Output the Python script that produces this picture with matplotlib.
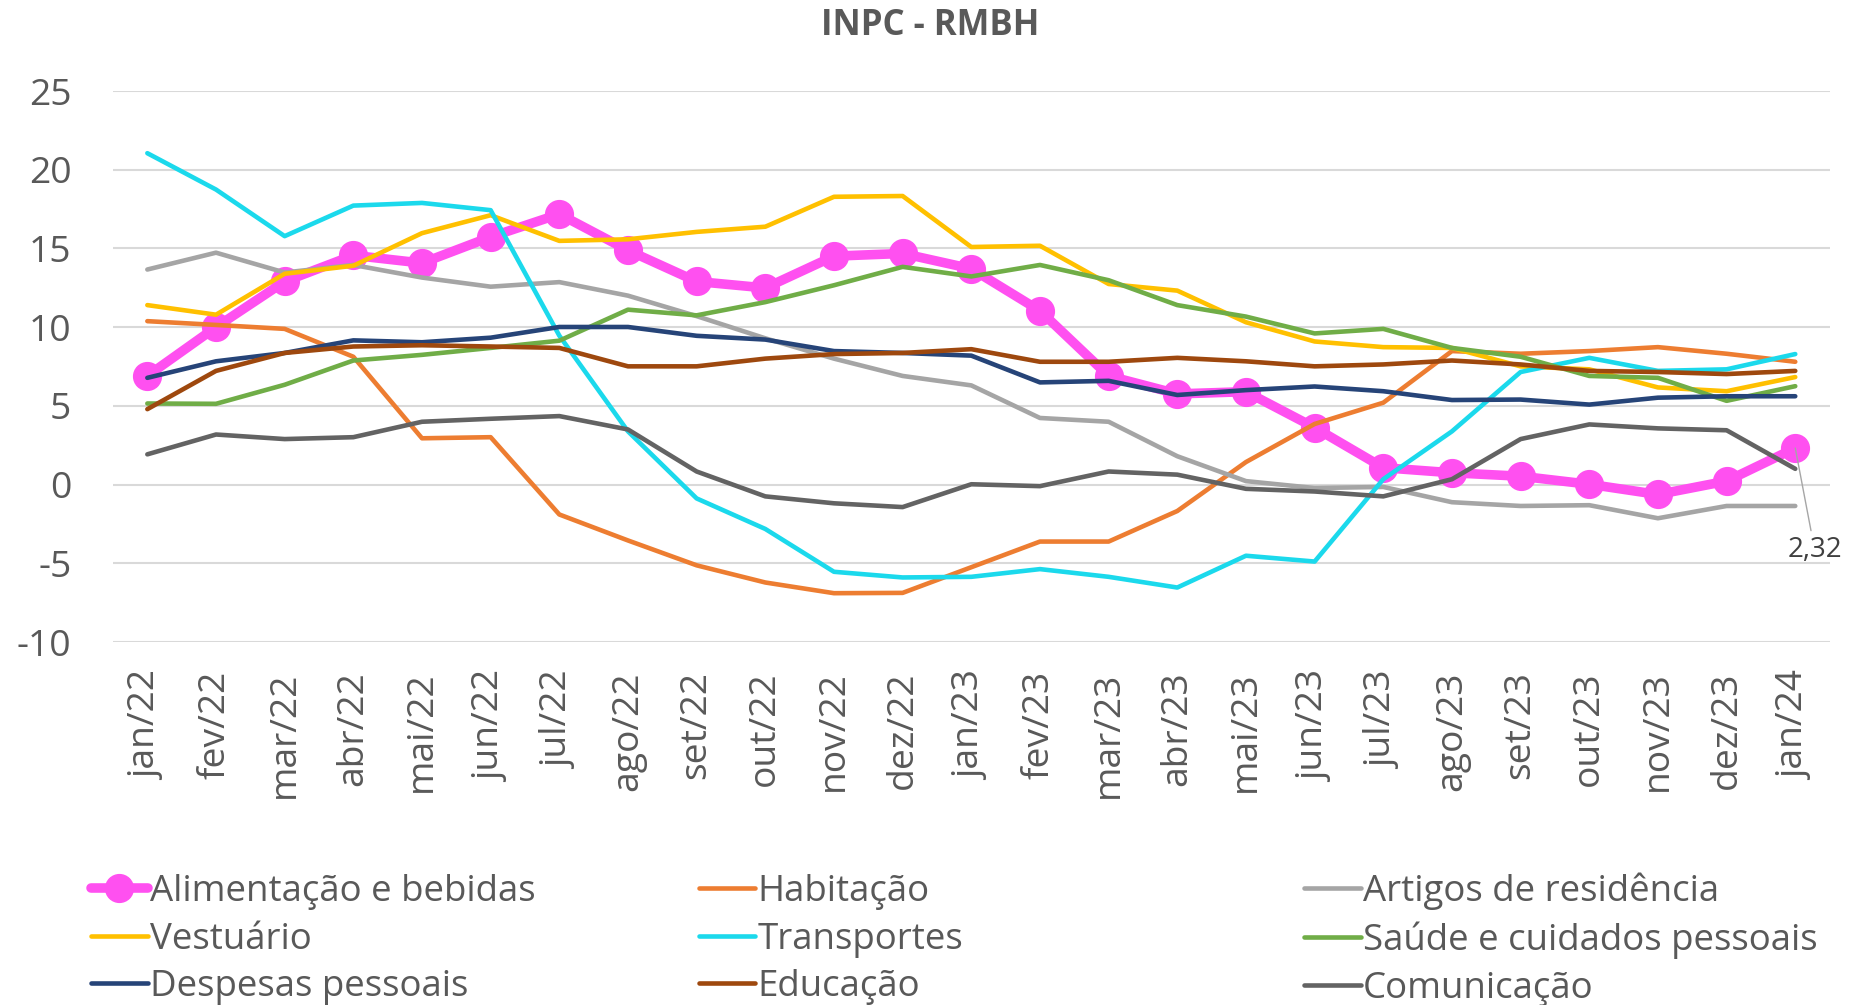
import matplotlib
matplotlib.use("Agg")
import matplotlib.pyplot as plt

plt.rcParams['font.family'] = ['Open Sans', 'DejaVu Sans']
plt.rcParams['axes.unicode_minus'] = False

meses = ['jan/22', 'fev/22', 'mar/22', 'abr/22', 'mai/22', 'jun/22', 'jul/22',
         'ago/22', 'set/22', 'out/22', 'nov/22', 'dez/22', 'jan/23', 'fev/23',
         'mar/23', 'abr/23', 'mai/23', 'jun/23', 'jul/23', 'ago/23', 'set/23',
         'out/23', 'nov/23', 'dez/23', 'jan/24']

alimentacao = [6.90, 10.00, 12.90, 14.56, 14.07, 15.73, 17.18, 14.88, 12.90, 12.49,
               14.51, 14.68, 13.71, 11.04, 6.90, 5.76, 5.90, 3.62, 1.07, 0.75,
               0.53, 0.02, -0.63, 0.22, 2.32]
habitacao = [10.38, 10.14, 9.89, 8.12, 2.94, 3.01, -1.90, -3.55, -5.13, -6.22,
             -6.90, -6.88, -5.25, -3.62, -3.62, -1.68, 1.43, 3.85, 5.20, 8.48,
             8.31, 8.48, 8.73, 8.31, 7.80]
artigos = [13.66, 14.73, 13.47, 13.95, 13.15, 12.57, 12.86, 12.00, 10.70, 9.29,
           8.00, 6.90, 6.30, 4.23, 3.99, 1.80, 0.22, -0.22, -0.15, -1.12,
           -1.36, -1.31, -2.14, -1.36, -1.36]
vestuario = [11.40, 10.79, 13.39, 13.90, 15.97, 17.11, 15.48, 15.58, 16.05, 16.38,
             18.28, 18.33, 15.09, 15.17, 12.74, 12.32, 10.31, 9.09, 8.73, 8.68,
             7.51, 7.32, 6.17, 5.93, 6.83]
transportes = [21.05, 18.74, 15.78, 17.72, 17.89, 17.43, 9.46, 3.38, -0.88, -2.82,
               -5.54, -5.90, -5.86, -5.37, -5.86, -6.54, -4.52, -4.89, 0.34, 3.38,
               7.15, 8.05, 7.22, 7.32, 8.29]
saude = [5.15, 5.13, 6.34, 7.88, 8.24, 8.68, 9.14, 11.11, 10.75, 11.59,
         12.66, 13.83, 13.22, 13.95, 12.98, 11.40, 10.67, 9.60, 9.89, 8.68,
         8.12, 6.90, 6.78, 5.32, 6.25]
despesas = [6.78, 7.83, 8.36, 9.16, 9.04, 9.33, 10.01, 10.01, 9.45, 9.21,
            8.48, 8.36, 8.19, 6.49, 6.59, 5.69, 6.00, 6.23, 5.93, 5.37,
            5.40, 5.08, 5.52, 5.61, 5.61]
educacao = [4.79, 7.22, 8.36, 8.77, 8.85, 8.77, 8.68, 7.51, 7.51, 8.00,
            8.29, 8.36, 8.60, 7.80, 7.80, 8.05, 7.83, 7.51, 7.63, 7.88,
            7.63, 7.22, 7.15, 7.02, 7.22]
comunicacao = [1.92, 3.18, 2.89, 3.01, 3.99, 4.18, 4.35, 3.50, 0.83, -0.75,
               -1.19, -1.43, 0.02, -0.10, 0.83, 0.63, -0.27, -0.44, -0.75, 0.34,
               2.89, 3.82, 3.57, 3.45, 1.00]

series = [
    ("Alimentação e bebidas", alimentacao, "#FF50F0"),
    ("Habitação", habitacao, "#ED7D31"),
    ("Artigos de residência", artigos, "#A5A5A5"),
    ("Vestuário", vestuario, "#FFC000"),
    ("Transportes", transportes, "#1BD9EC"),
    ("Saúde e cuidados pessoais", saude, "#70AD47"),
    ("Despesas pessoais", despesas, "#264478"),
    ("Educação", educacao, "#9E480E"),
    ("Comunicação", comunicacao, "#636363"),
]

W, H = 1850, 1005
fig = plt.figure(figsize=(W / 100, H / 100), dpi=100)
ax = fig.add_axes([113 / W, 1 - 642 / H, (1829.6 - 113) / W, (642 - 91) / H])

x = list(range(len(meses)))
linhas = []
for i, (nome, vals, cor) in enumerate(series):
    if i == 0:
        ln, = ax.plot(x, vals, color=cor, lw=6.9, marker='o', markersize=20,
                      solid_joinstyle='round', solid_capstyle='round', label=nome)
    else:
        ln, = ax.plot(x, vals, color=cor, lw=3.3,
                      solid_joinstyle='round', solid_capstyle='round', label=nome)
    linhas.append(ln)

ax.set_ylim(-10, 25)
ax.set_yticks(range(-10, 26, 5))
ax.set_xlim(-0.5, len(meses) - 0.5)
ax.set_xticks(x)
ax.set_xticklabels(meses, rotation=90)
ax.grid(axis='y', color='#D9D9D9', lw=1.5)
ax.set_axisbelow(True)
for s in ax.spines.values():
    s.set_visible(False)
ax.tick_params(axis='y', length=0, pad=30, labelsize=26.8, labelcolor='#595959')
ax.tick_params(axis='x', length=0, pad=21, labelsize=26.8, labelcolor='#595959')

# rótulo do último ponto
rotulo = f"{alimentacao[-1]:.2f}".replace('.', ',')
ax.annotate(rotulo, xy=(x[-1], alimentacao[-1]), xytext=(14, -73.5),
            textcoords='offset points', ha='center', va='center',
            fontsize=20, color='#404040', annotation_clip=False,
            arrowprops=dict(arrowstyle='-', color='#A6A6A6', lw=1,
                            shrinkA=2, shrinkB=0))

fig.text(930 / W, 1 - 26 / H, "INPC - RMBH", ha='center', va='center',
         fontsize=25, fontweight='bold', color='#595959')

# legenda em três colunas
colunas = [(91, [0, 3, 6]), (698.5, [1, 4, 7]), (1304, [2, 5, 8])]
for xpix, idx in colunas:
    fig.legend([linhas[k] for k in idx], [series[k][0] for k in idx],
               loc='center left', bbox_to_anchor=(xpix / W, 1 - 939.5 / H),
               frameon=False, fontsize=26.4, labelcolor='#595959',
               handlelength=1.55, handletextpad=0.05, labelspacing=0.32,
               borderpad=0, borderaxespad=0)

fig.savefig("out.png", dpi=100)
